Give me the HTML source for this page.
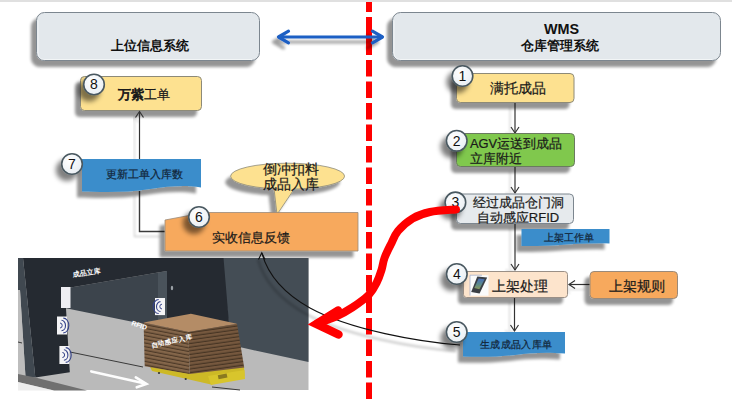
<!DOCTYPE html>
<html><head><meta charset="utf-8">
<style>
html,body{margin:0;padding:0;background:#fff;width:732px;height:401px;overflow:hidden}
svg{display:block;font-family:"Liberation Sans",sans-serif}
</style></head>
<body>
<svg width="732" height="401" viewBox="0 0 732 401">
<defs>
<filter id="sh" x="-30%" y="-40%" width="160%" height="180%">
 <feGaussianBlur in="SourceAlpha" stdDeviation="1.4"/>
 <feOffset dx="-5.5" dy="6" result="o"/>
 <feComponentTransfer><feFuncA type="linear" slope="0.42"/></feComponentTransfer>
 <feMerge><feMergeNode/><feMergeNode in="SourceGraphic"/></feMerge>
</filter>
<filter id="shs" x="-50%" y="-50%" width="200%" height="200%">
 <feGaussianBlur in="SourceAlpha" stdDeviation="2.4"/>
 <feOffset dx="-5" dy="6"/>
 <feComponentTransfer><feFuncA type="linear" slope="0.5"/></feComponentTransfer>
 <feMerge><feMergeNode/><feMergeNode in="SourceGraphic"/></feMerge>
</filter>
<filter id="shl" x="-30%" y="-30%" width="160%" height="160%">
 <feGaussianBlur in="SourceAlpha" stdDeviation="1.2"/>
 <feOffset dx="-5" dy="5"/>
 <feComponentTransfer><feFuncA type="linear" slope="0.18"/></feComponentTransfer>
 <feMerge><feMergeNode/><feMergeNode in="SourceGraphic"/></feMerge>
</filter>
<radialGradient id="cg" cx="0.4" cy="0.35" r="0.7">
 <stop offset="0" stop-color="#ffffff"/><stop offset="1" stop-color="#e8eef3"/>
</radialGradient>
</defs>

<!-- top band -->
<rect x="0" y="0" width="732" height="2" fill="#e0e0e0"/>

<!-- red dashed divider -->
<line x1="369" y1="2" x2="369" y2="401" stroke="#ff0000" stroke-width="6" stroke-dasharray="16.5 5" stroke-dashoffset="6.5"/>

<!-- big boxes -->
<g filter="url(#sh)">
 <rect x="36.5" y="12.5" width="223" height="48" rx="8" fill="#e3e8ec" stroke="#7c868f" stroke-width="1"/>
 <rect x="392.5" y="12.5" width="328" height="48" rx="8" fill="#e3e8ec" stroke="#7c868f" stroke-width="1"/>
</g>
<path d="M38,20.5 V53 Q38,59.5 44.5,59.5 H252" fill="none" stroke="#ffffff" stroke-opacity="0.55" stroke-width="1"/>
<path d="M394,20.5 V53 Q394,59.5 400.5,59.5 H712" fill="none" stroke="#ffffff" stroke-opacity="0.55" stroke-width="1"/>
<text x="150.3" y="49.8" font-size="13" font-weight="bold" text-anchor="middle" fill="#111">上位信息系统</text>
<text x="561.5" y="33.8" font-size="14.4" font-weight="bold" text-anchor="middle" fill="#111">WMS</text>
<text x="560" y="49.6" font-size="13" font-weight="bold" text-anchor="middle" fill="#111">仓库管理系统</text>

<!-- double arrow -->
<rect x="366" y="30" width="6" height="10" fill="#ff0000"/>
<filter id="ash" x="-20%" y="-100%" width="140%" height="300%">
 <feGaussianBlur in="SourceAlpha" stdDeviation="1.5"/>
 <feOffset dx="-5" dy="5"/>
 <feComponentTransfer><feFuncA type="linear" slope="0.38"/></feComponentTransfer>
 <feMerge><feMergeNode/><feMergeNode in="SourceGraphic"/></feMerge>
</filter>
<g filter="url(#ash)" stroke="#1d5fc4" stroke-width="2.8" fill="none" stroke-linecap="round" stroke-linejoin="round">
 <line x1="279" y1="37" x2="382" y2="37"/>
 <polyline points="288.5,31.2 278.5,37 288.5,42.8" stroke-width="3.2"/>
 <polyline points="372.5,31.2 382.5,37 372.5,42.8" stroke-width="3.2"/>
</g>

<!-- box 8 -->
<g filter="url(#sh)">
 <rect x="80.5" y="76.5" width="121" height="34" rx="4" fill="#fde190" stroke="#8d8a78" stroke-width="1"/>
</g>
<text x="143.5" y="98.5" font-size="12.5" text-anchor="middle" fill="#1a1a1a" stroke="#1a1a1a" stroke-width="0.22"><tspan stroke-width="0.75">万紫</tspan><tspan font-size="13">工单</tspan></text>

<!-- arrow 7 -> 8 -->
<g filter="url(#shl)">
<line x1="139.5" y1="159" x2="139.5" y2="112" stroke="#333" stroke-width="1.2"/>
<polyline points="135.5,117.5 139.5,111.5 143.5,117.5" fill="none" stroke="#333" stroke-width="1.2"/>
</g>

<!-- connector 7 -> 6 -->
<g filter="url(#shl)">
<polyline points="139.5,191 139.5,231.5 165,231.5" fill="none" stroke="#3a3a3a" stroke-width="1.4"/>
</g>

<!-- box 7 flag -->
<g filter="url(#sh)">
 <path d="M82,159 H201 V187.5 C185,185 170,186 150,189 C125,193 100,192 82,191.5 Z" fill="#3a8dcb"/>
</g>
<text x="144" y="177.5" font-size="10.5" text-anchor="middle" fill="#12263a" stroke="#12263a" stroke-width="0.22">更新工单入库数</text>

<!-- callout -->
<g filter="url(#sh)">
 <g fill="#fde190" stroke="#8d8a78" stroke-width="0.8">
  <ellipse cx="287.6" cy="176.2" rx="57" ry="13"/>
  <polygon points="274,188.5 277,214.5 295,187.8" stroke="none"/>
  <polyline points="274,188.5 277,214.5 295,187.8" fill="none"/>
 </g>
</g>
<text x="290.5" y="173.8" font-size="13.6" text-anchor="middle" fill="#1a1a1a" stroke="#1a1a1a" stroke-width="0.22">倒冲扣料</text>
<text x="290.5" y="189" font-size="13.6" text-anchor="middle" fill="#1a1a1a" stroke="#1a1a1a" stroke-width="0.22">成品入库</text>

<!-- box 6 -->
<g filter="url(#sh)">
 <path d="M165,220 L205,212.5 H358 V251 H165 Z" fill="#f7a95d" stroke="#9a8a7a" stroke-width="0.8"/>
</g>
<text x="250.6" y="242" font-size="13.3" text-anchor="middle" fill="#1a1a1a" stroke="#1a1a1a" stroke-width="0.22">实收信息反馈</text>

<!-- right column arrows -->
<g stroke="#333" stroke-width="1.2" fill="none" filter="url(#shl)">
 <line x1="515" y1="102" x2="515" y2="133"/><polyline points="511,127 515,133 519,127"/>
 <line x1="515" y1="166" x2="515" y2="193"/><polyline points="511,187 515,193 519,187"/>
 <line x1="515" y1="223" x2="515" y2="270"/><polyline points="511,264 515,270 519,264"/>
 <line x1="514.5" y1="297" x2="514.5" y2="331"/><polyline points="510.5,325 514.5,331 518.5,325"/>
 <line x1="590" y1="284.5" x2="569" y2="284.5"/><polyline points="575,280.5 569,284.5 575,288.5"/>
</g>

<!-- box 1 -->
<g filter="url(#sh)">
 <rect x="456.5" y="73.5" width="117.5" height="29" rx="4" fill="#fde190" stroke="#8d8a78" stroke-width="1"/>
 <rect x="456.5" y="133.5" width="118" height="33" rx="4" fill="#80c84e" stroke="#6a7a60" stroke-width="1"/>
 <rect x="456.5" y="194" width="117" height="29.5" rx="4" fill="#e6eaed" stroke="#7c868f" stroke-width="1"/>
 <rect x="463.5" y="271.5" width="104" height="26" rx="3" fill="#fde4cc" stroke="#9a8f86" stroke-width="1"/>
 <rect x="590" y="271.5" width="87.5" height="27" rx="4" fill="#f7a95d" stroke="#9a8a7a" stroke-width="1"/>
</g>
<g filter="url(#sh)">
 <path d="M521.5,229 H609.5 V243.5 C590,243 575,244 560,245 C545,246 532,246.3 521.5,246 Z" fill="#3a8dcb"/>
 <path d="M463,332 H565 V353.5 C545,352 530,353 515,355 C495,357 480,357 463,356.5 Z" fill="#3a8dcb"/>
</g>
<text x="517.5" y="92.6" font-size="13.8" text-anchor="middle" fill="#1a1a1a" stroke="#1a1a1a" stroke-width="0.22">满托成品</text>
<text x="470" y="148" font-size="12.9" fill="#1a1a1a" stroke="#1a1a1a" stroke-width="0.22">AGV运送到成品</text>
<text x="470" y="163" font-size="12.9" fill="#1a1a1a" stroke="#1a1a1a" stroke-width="0.22">立库附近</text>
<text x="518" y="206.5" font-size="13.4" text-anchor="middle" fill="#1a1a1a" stroke="#1a1a1a" stroke-width="0.22">经过成品仓门洞</text>
<text x="518" y="222" font-size="13" text-anchor="middle" fill="#1a1a1a" stroke="#1a1a1a" stroke-width="0.22">自动感应RFID</text>
<text x="568.5" y="241.3" font-size="10.2" text-anchor="middle" fill="#12263a" stroke="#12263a" stroke-width="0.22">上架工作单</text>
<text x="492" y="290.5" font-size="13.5" fill="#1a1a1a" stroke="#1a1a1a" stroke-width="0.22">上架处理</text>
<text x="636.5" y="290.5" font-size="13.5" text-anchor="middle" fill="#1a1a1a" stroke="#1a1a1a" stroke-width="0.22">上架规则</text>
<text x="516.2" y="348" font-size="10.4" letter-spacing="0.35" text-anchor="middle" fill="#12263a" stroke="#12263a" stroke-width="0.22">生成成品入库单</text>

<!-- handheld icon -->
<defs><linearGradient id="scr" x1="0" y1="0" x2="0" y2="1"><stop offset="0" stop-color="#4a6fb8"/><stop offset="0.55" stop-color="#5c8a8a"/><stop offset="1" stop-color="#8c9a5a"/></linearGradient></defs>
<rect x="470" y="275.2" width="18.5" height="20.5" fill="#fbfbfb"/>
<polyline points="470,295.5 470,275.2 482,275.2" fill="none" stroke="#9aa6c8" stroke-width="0.7"/>
<polygon points="477.3,276.6 487.2,277.6 479.6,293.6 471.2,292" fill="#3a3e44"/>
<polygon points="478.6,278.6 484.6,279.2 479.4,289.2 474.3,288" fill="url(#scr)"/>

<!-- photo -->
<defs>
 <pattern id="strL" patternUnits="userSpaceOnUse" width="6" height="3.6" patternTransform="rotate(11)">
  <rect width="6" height="3.6" fill="#84664a"/><rect y="2.4" width="6" height="1.2" fill="#4d3a28"/>
 </pattern>
 <pattern id="strR" patternUnits="userSpaceOnUse" width="6" height="3.6" patternTransform="rotate(-8)">
  <rect width="6" height="3.6" fill="#76583e"/><rect y="2.4" width="6" height="1.2" fill="#473524"/>
 </pattern>
 <g id="rfid">
  <rect x="0" y="0" width="10" height="18" fill="#f4f4f6"/>
  <path d="M3,6.5 A2.2,2.5 0 0 1 3,11.5" fill="none" stroke="#34428a" stroke-width="1"/>
  <path d="M4.5,3.8 A4,5.2 0 0 1 4.5,14.2" fill="none" stroke="#34428a" stroke-width="1.1"/>
  <path d="M6.3,1.6 A5.5,7.4 0 0 1 6.3,16.4" fill="none" stroke="#34428a" stroke-width="1.1"/>
 </g>
</defs>
<g id="photo">
 <rect x="18" y="258" width="290.5" height="132" fill="#bababa"/>
 <!-- right slate wall -->
 <polygon points="222,258 308.5,258 308.5,362 240.6,347.3 231,347" fill="#444d55"/>
 <!-- inside wall -->
 <polygon points="64.8,288.4 158,272.4 158,327 64.8,308" fill="#3c444c"/>
 <!-- inner pillar face -->
 <polygon points="158,272.4 167,271 167,336 158,327" fill="#4a535b"/>
 <!-- gate frame -->
 <polygon points="18,258 223.5,258 231,347 167,337 167,271 158,272.4 64.8,288.4 69.8,372.3 35.3,377.5 23,258" fill="#252a31"/>
 <!-- left slate strip -->
 <polygon points="18,258 23,258 35.3,377.5 25.5,377 20,290 18,290" fill="#404850"/>
 <polygon points="18,290 20,290 25.5,377 18,375" fill="#bdbdbd"/>
 <!-- lamp -->
 <ellipse cx="172" cy="288" rx="1.2" ry="2.2" fill="#9aa0a6"/>
 <!-- bottom slab -->
 <polygon points="18,374 35.3,377.5 87,390.5 54,390.5 18,382" fill="#707070"/>
 <polygon points="18,382 54,390.5 18,390.5" fill="#eeeeee"/>
 <!-- track line -->
 <polyline points="70,352 143,367" fill="none" stroke="#3a3a3a" stroke-width="1"/>
 <polyline points="18,342 22,343" fill="none" stroke="#3a3a3a" stroke-width="1"/>
 <polyline points="212,387 240,390" fill="none" stroke="#3a3a3a" stroke-width="1"/>
 <!-- rfid panels -->
 <rect x="61" y="287" width="9.5" height="21" fill="#eeeef2"/>
 <use href="#rfid" transform="translate(57,316.5)"/>
 <use href="#rfid" transform="translate(59.4,346)"/>
 <use href="#rfid" transform="translate(165,298) scale(-1,0.95)"/>
 <!-- AGV -->
 <polygon points="149.7,366 189.7,373 244,366 244.5,376 211,384.5 152,371" fill="#cdb926"/>
 <polygon points="208,376 244.5,370 245,379 211,385" fill="#d8c52c"/>
 <rect x="218" y="374.5" width="9" height="4" fill="#8a7a20" transform="rotate(-12 222 376)"/>
 <circle cx="159" cy="373" r="1.1" fill="#333"/>
 <circle cx="185.7" cy="379" r="1.1" fill="#333"/>
<!-- pallet stack -->
 <polygon points="143.6,322.5 188.5,332 189.7,374 144.7,366.3" fill="url(#strL)"/>
 <polygon points="188.5,332 237,323.7 244.2,367.5 189.7,374" fill="url(#strR)"/>
 <polygon points="143.6,322.5 190.9,313.7 237,323.7 188.5,332" fill="#b48c66"/>
 <!-- white arrow -->
 <g stroke="#fdfdfd" stroke-width="2.6" fill="none" stroke-linecap="round">
  <line x1="91.3" y1="371.4" x2="145" y2="383.6"/>
  <polyline points="135.8,377.4 146.4,384 136.8,387.3"/>
 </g>
 <!-- photo labels -->
 <g fill="#ffffff" font-weight="bold" font-size="7">
  <text transform="translate(73,277) rotate(-8)" font-size="7">成品立库</text>
  <text transform="translate(131,325) rotate(18)" font-size="6.8">RFID</text>
  <text transform="translate(151.5,347.5) rotate(-12)" font-size="6.6">自动感应入库</text>
 </g>
</g>

<!-- black curve 5 -> 6 -->
<filter id="blr" x="-10%" y="-10%" width="120%" height="120%"><feGaussianBlur stdDeviation="0.9"/></filter>
<path d="M460,345 C420,342 350,330 310,308 C285,294 268,275 262,253.5" fill="none" stroke="rgba(0,0,0,0.16)" stroke-width="3" transform="translate(-4,6)" filter="url(#blr)"/>
<path d="M460,345 C420,342 350,330 310,308 C285,294 268,275 262,253.5" fill="none" stroke="#111" stroke-width="1.1"/>
<polyline points="258.5,259.5 261.8,252.8 265,259.5" fill="none" stroke="#111" stroke-width="1.1"/>

<!-- circles -->
<g filter="url(#shs)">
 <circle cx="94" cy="84.5" r="10.3" fill="url(#cg)" stroke="#4a5961" stroke-width="1.6"/>
 <circle cx="72" cy="164" r="10.3" fill="url(#cg)" stroke="#4a5961" stroke-width="1.6"/>
 <circle cx="199" cy="217" r="10.3" fill="url(#cg)" stroke="#4a5961" stroke-width="1.6"/>
 <circle cx="462.5" cy="76" r="10.3" fill="url(#cg)" stroke="#4a5961" stroke-width="1.6"/>
 <circle cx="456.7" cy="140.8" r="10.3" fill="url(#cg)" stroke="#4a5961" stroke-width="1.6"/>
 <circle cx="455.4" cy="202.4" r="10.3" fill="url(#cg)" stroke="#4a5961" stroke-width="1.6"/>
 <circle cx="456.8" cy="274" r="10.3" fill="url(#cg)" stroke="#4a5961" stroke-width="1.6"/>
 <circle cx="456.7" cy="332" r="10.3" fill="url(#cg)" stroke="#4a5961" stroke-width="1.6"/>
</g>
<g font-size="14" text-anchor="middle" fill="#111">
 <text x="94" y="89.3">8</text>
 <text x="72" y="168.8">7</text>
 <text x="199" y="221.8">6</text>
 <text x="462.5" y="80.8">1</text>
 <text x="456.7" y="145.6">2</text>
 <text x="455.4" y="207.2">3</text>
 <text x="456.8" y="278.8">4</text>
 <text x="456.7" y="336.8">5</text>
</g>

<!-- red big arrow -->
<g stroke="#ff0000" stroke-width="8" fill="none" stroke-linecap="round">
 <path d="M456.0,209.5 C451.7,209.9 437.3,210.5 430.0,212.0 C422.7,213.5 417.7,215.4 412.4,218.6 C407.1,221.8 401.5,226.8 398.0,231.0 C394.5,235.2 393.4,239.2 391.2,243.7 C388.9,248.2 386.1,253.6 384.5,258.0 C382.9,262.4 382.8,265.8 381.5,270.0 C380.2,274.2 378.6,278.8 376.5,283.0 C374.4,287.2 372.7,290.9 368.7,295.0 C364.7,299.1 357.9,303.8 352.5,307.4 C347.1,311.0 341.8,313.9 336.0,316.5 C330.2,319.1 321.0,321.9 318.0,323.0"/>
 <polyline points="338,310.5 316.5,324 338.5,334.5" stroke-linejoin="miter" stroke-width="8.5"/>
</g>

</svg>
</body></html>
